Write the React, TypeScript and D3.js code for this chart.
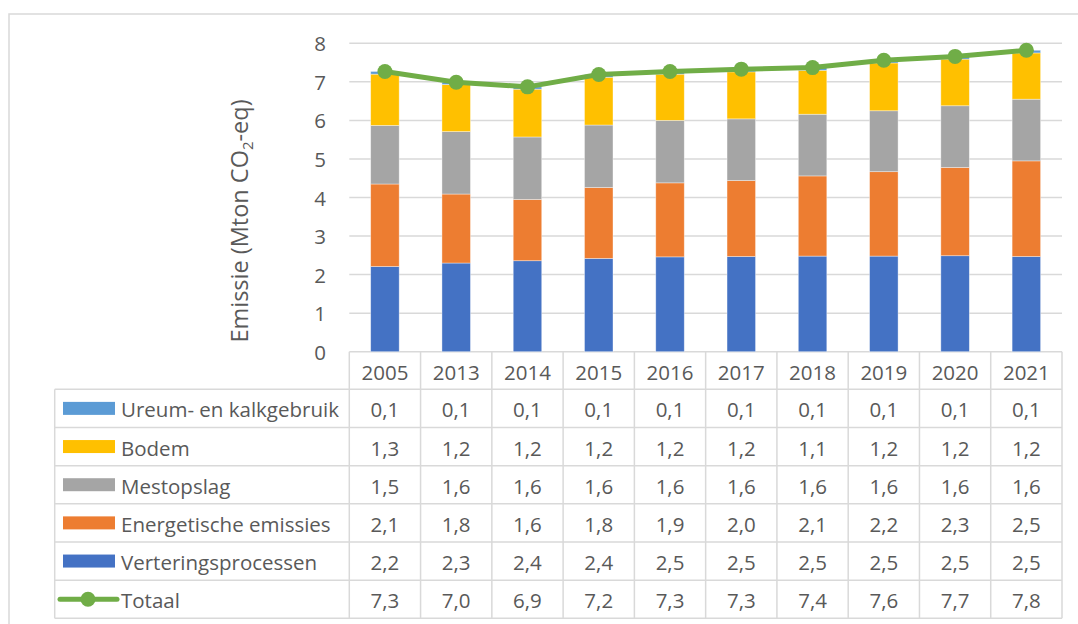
import React from "react";
import * as d3 from "d3";

const years = ["2005", "2013", "2014", "2015", "2016", "2017", "2018", "2019", "2020", "2021"];
const verteringsprocessen = [2.21, 2.30, 2.36, 2.42, 2.46, 2.47, 2.48, 2.48, 2.49, 2.47];
const energetischeEmissies = [2.14, 1.79, 1.59, 1.84, 1.92, 1.97, 2.08, 2.19, 2.29, 2.48];
const mestopslag = [1.52, 1.62, 1.62, 1.62, 1.62, 1.60, 1.60, 1.58, 1.60, 1.60];
const bodem = [1.33, 1.22, 1.24, 1.24, 1.20, 1.22, 1.14, 1.24, 1.21, 1.20];
const ureumKalk = [0.07, 0.06, 0.06, 0.07, 0.07, 0.07, 0.07, 0.07, 0.07, 0.07];
const yTicks = [0, 1, 2, 3, 4, 5, 6, 7, 8];

const stackSeries = [
  { name: "Verteringsprocessen", values: verteringsprocessen, color: "#4472C4" },
  { name: "Energetische emissies", values: energetischeEmissies, color: "#ED7D31" },
  { name: "Mestopslag", values: mestopslag, color: "#A5A5A5" },
  { name: "Bodem", values: bodem, color: "#FFC000" },
  { name: "Ureum- en kalkgebruik", values: ureumKalk, color: "#5B9BD5" },
];
const totalName = "Totaal";
const totalColor = "#70AD47";

const W = 1078;
const H = 624;
const FONT = "'Open Sans', 'Noto Sans', sans-serif";
const TXT = "#595959";
const GRID = "#d9d9d9";
const FS = 20.5;

const fmt = (v: number) => d3.format(".1f")(v).replace(".", ",");

export default function App() {
  const plotLeft = 349.3;
  const plotRight = 1062;
  const x = d3.scaleBand<string>().domain(years).range([plotLeft, plotRight]).paddingInner(0.6).paddingOuter(0.3);
  const y = d3.scaleLinear().domain([0, 8]).range([351.7, 43.3]);
  const step = x.step();

  const table = years.map((yr, i) => {
    const row: any = { year: yr };
    stackSeries.forEach((s) => (row[s.name] = s.values[i]));
    return row;
  });
  const stacked = d3.stack<any>().keys(stackSeries.map((s) => s.name))(table);
  const totals = years.map((_, i) => d3.sum(stackSeries, (s) => s.values[i]));

  const line = d3
    .line<number>()
    .x((_, i) => (x(years[i]) as number) + x.bandwidth() / 2)
    .y((d) => y(d));

  const tableTop = y(0);
  const headerBottom = 389.3;
  const tableBottom = 618.3;
  const tableLeft = 54.7;
  const rowH = (tableBottom - headerBottom) / 6;

  const rows = [
    ...stackSeries.slice().reverse().map((s) => ({ name: s.name, color: s.color, values: s.values, isLine: false })),
    { name: totalName, color: totalColor, values: totals, isLine: true },
  ];

  const colEdges = years.map((_, i) => plotLeft + i * step).concat([plotRight]);

  return (
    <div style={{ position: "absolute", left: 0, top: 0 }}>
      <svg width={W} height={H} style={{ display: "block", fontFamily: FONT }}>
        <rect x={0} y={0} width={W} height={H} fill="#fff" />
        <rect x={9} y={14} width={W} height={H} fill="none" stroke={GRID} strokeWidth={1.5} />

        {yTicks.map((t) => (
          <line key={"g" + t} x1={plotLeft} x2={plotRight} y1={y(t)} y2={y(t)} stroke={GRID} strokeWidth={1.5} />
        ))}
        {yTicks.map((t) => (
          <text key={"t" + t} x={326} y={y(t)} textAnchor="end" dominantBaseline="central" fontSize={FS} fill={TXT}>
            {t}
          </text>
        ))}
        <text transform={`translate(248,221) rotate(-90)`} textAnchor="middle" fontSize={23.5} fill={TXT}>
          Emissie (Mton CO<tspan fontSize={15} dy={5}>2</tspan>
          <tspan dy={-5}>-eq)</tspan>
        </text>

        {stacked.map((layer, li) => (
          <g key={layer.key} fill={stackSeries[li].color}>
            {layer.map((d, i) => (
              <rect
                key={i}
                x={x(years[i])}
                y={y(d[1])}
                width={x.bandwidth()}
                height={y(d[0]) - y(d[1])}
                stroke="#ffffff"
                strokeOpacity={0.5}
                strokeWidth={0.75}
              />
            ))}
          </g>
        ))}

        <path d={line(totals) || ""} fill="none" stroke={totalColor} strokeWidth={5} strokeLinejoin="round" />
        {totals.map((v, i) => (
          <circle key={i} cx={(x(years[i]) as number) + x.bandwidth() / 2} cy={y(v)} r={7.5} fill={totalColor} />
        ))}

        <g stroke={GRID} strokeWidth={1.5} fill="none">
          {colEdges.map((cx, i) => (
            <line key={"hv" + i} x1={cx} x2={cx} y1={tableTop} y2={tableBottom} />
          ))}
          <line x1={tableLeft} x2={tableLeft} y1={headerBottom} y2={tableBottom} />
          {d3.range(7).map((r) => (
            <line key={"hr" + r} x1={tableLeft} x2={plotRight} y1={headerBottom + r * rowH} y2={headerBottom + r * rowH} />
          ))}
        </g>
        {years.map((yr) => (
          <text
            key={"yr" + yr}
            x={(x(yr) as number) + x.bandwidth() / 2}
            y={(tableTop + headerBottom) / 2 + 1}
            textAnchor="middle"
            dominantBaseline="central"
            fontSize={FS}
            fill={TXT}
          >
            {yr}
          </text>
        ))}
        {rows.map((r, ri) => {
          const cy = headerBottom + ri * rowH + rowH / 2;
          return (
            <g key={r.name}>
              {r.isLine ? (
                <g>
                  <line x1={60} x2={117} y1={cy} y2={cy} stroke={r.color} strokeWidth={5} strokeLinecap="round" />
                  <circle cx={88} cy={cy} r={7.5} fill={r.color} />
                </g>
              ) : (
                <rect x={63} y={cy - 6.5} width={52} height={13} fill={r.color} />
              )}
              <text x={121} y={cy + 1} dominantBaseline="central" fontSize={FS} fill={TXT}>
                {r.name}
              </text>
              {r.values.map((v, i) => (
                <text
                  key={i}
                  x={(x(years[i]) as number) + x.bandwidth() / 2}
                  y={cy + 1}
                  textAnchor="middle"
                  dominantBaseline="central"
                  fontSize={FS}
                  fill={TXT}
                >
                  {fmt(v)}
                </text>
              ))}
            </g>
          );
        })}
      </svg>
    </div>
  );
}
